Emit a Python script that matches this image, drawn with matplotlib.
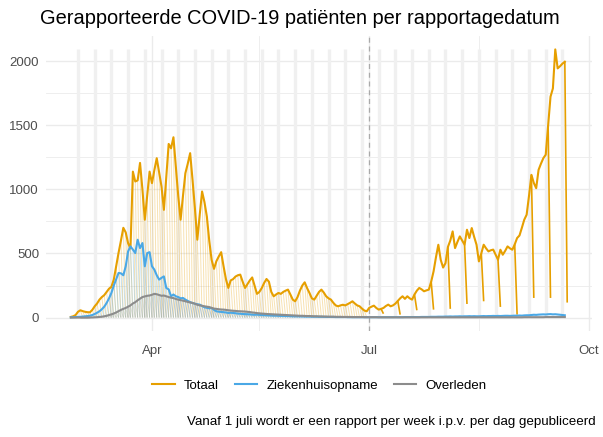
import numpy as np
import pandas as pd
import matplotlib
matplotlib.use('Agg')
import matplotlib.pyplot as plt
import matplotlib.dates as mdates
from matplotlib.collections import LineCollection
from matplotlib.lines import Line2D

plt.rcParams['font.family'] = ['Liberation Sans', 'DejaVu Sans']

# eindwaarden per dag (laatste rapport), 27 feb t/m 21 sep 2020
datum = pd.date_range('2020-02-27', '2020-09-21')

totaal = [
    5, 10, 20,                                                       # feb
    45, 57, 50, 45, 42, 41, 60, 88, 110, 140,                        # mrt
    160, 175, 200, 225, 240, 296, 400, 505, 600, 700,
    664, 580, 540, 1138, 1061, 1070, 1206, 1000, 763, 950, 1138,
    1048, 1150, 1243, 1130, 1022, 840, 1100, 1354, 1320, 1406,       # apr
    1178, 950, 763, 950, 1126, 1200, 1282, 1074, 850, 607,
    800, 983, 900, 788, 600, 450, 380, 440, 477, 510,
    400, 300, 231, 290, 300, 320, 330, 335, 280, 231,                # mei
    260, 290, 313, 250, 185, 200, 230, 270, 301, 280,
    200, 166, 180, 192, 185, 200, 210, 218, 180, 140, 127,
    160, 210, 250, 275, 230, 192, 150, 140, 170, 200,                # jun
    218, 195, 166, 150, 140, 115, 95, 88, 95, 100,
    95, 105, 115, 127, 110, 95, 88, 70, 55, 49,
    75, 85, 93, 75, 62, 68, 75, 90, 101, 88,                         # jul
    95, 109, 130, 150, 166, 146, 166, 150, 140, 180,
    210, 231, 220, 205, 212, 218, 280, 360, 470, 568, 450,
    390, 425, 550, 600, 672, 542, 590, 633, 600, 568,                # aug
    685, 620, 698, 630, 568, 438, 500, 568, 540, 516,
    525, 530, 490, 451, 529, 490, 520, 555, 540, 529, 570,
    620, 640, 700, 763, 802, 950, 1113, 1050, 1009, 1152,            # sep
    1200, 1243, 1270, 1500, 1722, 1787, 2091, 1943, 1960, 1980, 1995,
]

ziekenhuis = [
    2, 3, 4,
    5, 6, 8, 10, 12, 15, 20, 28, 38, 49,
    65, 85, 114, 150, 192, 250, 300, 348, 345, 330,
    400, 516, 555, 530, 503, 607, 542, 581, 400, 503, 510,
    400, 374, 330, 296, 310, 321, 231, 220, 166, 180,
    166, 160, 150, 153, 140, 130, 120, 114, 108, 104,
    101, 90, 80, 76, 72, 75, 60, 49, 46, 44,
    42, 40, 36, 38, 36, 34, 31, 30, 28, 27,
    26, 25, 23, 22, 23, 21, 20, 19, 18, 17,
    16, 15, 15, 14, 13, 13, 12, 12, 11, 10, 10,
    10, 9, 9, 8, 8, 8, 7, 7, 7, 6,
    6, 6, 5, 5, 5, 5, 4, 4, 4, 4,
    4, 3, 3, 3, 3, 3, 3, 3, 3, 3,
    3, 3, 3, 3, 3, 3, 3, 3, 3, 3,
    3, 3, 3, 3, 3, 4, 4, 4, 4, 4,
    4, 4, 5, 5, 5, 5, 6, 6, 6, 7, 7,
    7, 8, 8, 9, 8, 9, 9, 10, 9, 10,
    10, 11, 10, 11, 10, 10, 11, 12, 11, 12,
    12, 13, 12, 13, 12, 13, 14, 14, 13, 14, 15,
    15, 16, 15, 17, 18, 18, 20, 22, 21, 23,
    24, 25, 24, 26, 27, 25, 26, 24, 22, 20, 18,
]

overleden = [
    0, 0, 0,
    0, 0, 0, 0, 0, 1, 1, 2, 3, 5,
    7, 10, 14, 20, 25, 32, 40, 50, 60, 68,
    75, 85, 95, 110, 120, 135, 148, 160, 165, 170, 172,
    178, 185, 182, 176, 170, 172, 166, 160, 155, 152,
    145, 140, 136, 132, 127, 122, 118, 114, 108, 100,
    95, 92, 88, 85, 82, 76, 70, 68, 65, 63,
    62, 60, 57, 55, 53, 52, 50, 49, 48, 47,
    45, 43, 40, 38, 35, 33, 31, 30, 28, 27,
    26, 25, 24, 23, 22, 21, 20, 19, 18, 17, 16,
    15, 14, 14, 13, 12, 12, 11, 10, 10, 9,
    9, 8, 8, 7, 7, 7, 6, 6, 6, 5,
    5, 5, 5, 4, 4, 4, 4, 4, 3, 3,
    3, 3, 3, 3, 2, 2, 2, 2, 2, 2,
    2, 2, 2, 2, 2, 2, 2, 2, 2, 2,
    2, 2, 2, 2, 2, 2, 2, 2, 2, 2, 2,
    2, 2, 2, 2, 2, 2, 2, 2, 2, 2,
    2, 2, 2, 2, 2, 2, 2, 2, 2, 2,
    2, 2, 2, 2, 2, 2, 2, 2, 2, 2, 2,
    2, 2, 2, 3, 3, 3, 3, 3, 3, 3,
    3, 3, 4, 4, 4, 4, 4, 4, 4, 4, 4,
]

# rapporten: dagelijks t/m 30 juni, daarna wekelijks (dinsdag)
dag_rapporten = pd.date_range('2020-03-03', '2020-06-30')
week_rapporten = pd.date_range('2020-07-07', '2020-09-22', freq='7D')
# waarde op de rapportagedag zelf in het weekrapport (totaal)
week_laatste_dag = [30, 23, 57, 62, 68, 106, 127, 83, 23, 153, 153, 117]
dag_laatste_dag = 0  # bij dagrapporten zakt de lijn tot ~0

zondagen = pd.date_range('2020-03-01', '2020-09-20', freq='7D')

kleuren = {'Totaal': '#E69F00', 'Ziekenhuisopname': '#4AA8E6', 'Overleden': '#8c8c8c'}

x = mdates.date2num(datum)


def drop_segments(waarden, rapporten, laatste):
    segs = []
    for r, v in zip(rapporten, laatste):
        i = datum.get_loc(r - pd.Timedelta(days=1))
        segs.append([(x[i], waarden[i]), (mdates.date2num(r), v)])
    return segs


fig = plt.figure(figsize=(6.03, 4.37), dpi=100)
ax = fig.add_axes([0.0763, 0.2426, 0.9055, 0.675])

# wekelijkse achtergrondstrepen
ax.vlines(mdates.date2num(zondagen), 0, max(totaal), color='#f0f0f0', lw=2.4, zorder=0.6)
ax.axvline(mdates.date2num(pd.Timestamp('2020-07-01')), color='#aaaaaa', lw=0.9,
           ls=(0, (4, 3)), zorder=1.5)

reeksen = [('Totaal', totaal), ('Ziekenhuisopname', ziekenhuis), ('Overleden', overleden)]
for naam, waarden in reeksen:
    c = kleuren[naam]
    dag = drop_segments(waarden, dag_rapporten, [dag_laatste_dag] * len(dag_rapporten))
    ax.add_collection(LineCollection(dag, colors=c, lw=0.7, alpha=0.3, zorder=2))
    ax.plot(x, waarden, color=c, lw=1.5, zorder=3)
    if naam == 'Totaal':
        week = drop_segments(waarden, week_rapporten, week_laatste_dag)
        ax.add_collection(LineCollection(week, colors=c, lw=1.2, zorder=3))

x0 = mdates.date2num(datum[0])
x1 = mdates.date2num(week_rapporten[-1])
pad = 0.05 * (x1 - x0)
ax.set_xlim(x0 - pad, x1 + pad)
ymax = max(totaal)
ax.set_ylim(-0.05 * ymax, 1.05 * ymax)

ax.set_xticks(mdates.date2num(pd.to_datetime(['2020-04-01', '2020-07-01', '2020-10-01'])))
ax.set_xticks(mdates.date2num(pd.to_datetime(['2020-05-16', '2020-08-16'])), minor=True)
ax.set_xticklabels(['Apr', 'Jul', 'Oct'])
ax.set_yticks([0, 500, 1000, 1500, 2000])
ax.set_yticks([250, 750, 1250, 1750], minor=True)
ax.grid(which='major', color='#ebebeb', lw=1.0)
ax.grid(which='minor', color='#ebebeb', lw=0.6)
ax.set_axisbelow(True)
for s in ax.spines.values():
    s.set_visible(False)
ax.tick_params(which='both', length=0, labelsize=9.5, colors='#4d4d4d')
ax.tick_params(axis='x', pad=10)
ax.tick_params(axis='y', pad=5)

fig.text(0.066, 0.958, 'Gerapporteerde COVID-19 patiënten per rapportagedatum',
         fontsize=14.4, va='center', ha='left')

handles = [Line2D([], [], color=kleuren[n], lw=1.5) for n, _ in reeksen]
fig.legend(handles, [n for n, _ in reeksen], loc='center', bbox_to_anchor=(0.53, 0.117),
           ncol=3, frameon=False, fontsize=9.5, handlelength=1.7, columnspacing=1.2,
           handletextpad=0.7)
fig.text(0.987, 0.034, 'Vanaf 1 juli wordt er een rapport per week i.p.v. per dag gepubliceerd',
         fontsize=9.6, ha='right', va='center')

fig.savefig('out.png', dpi=100)
